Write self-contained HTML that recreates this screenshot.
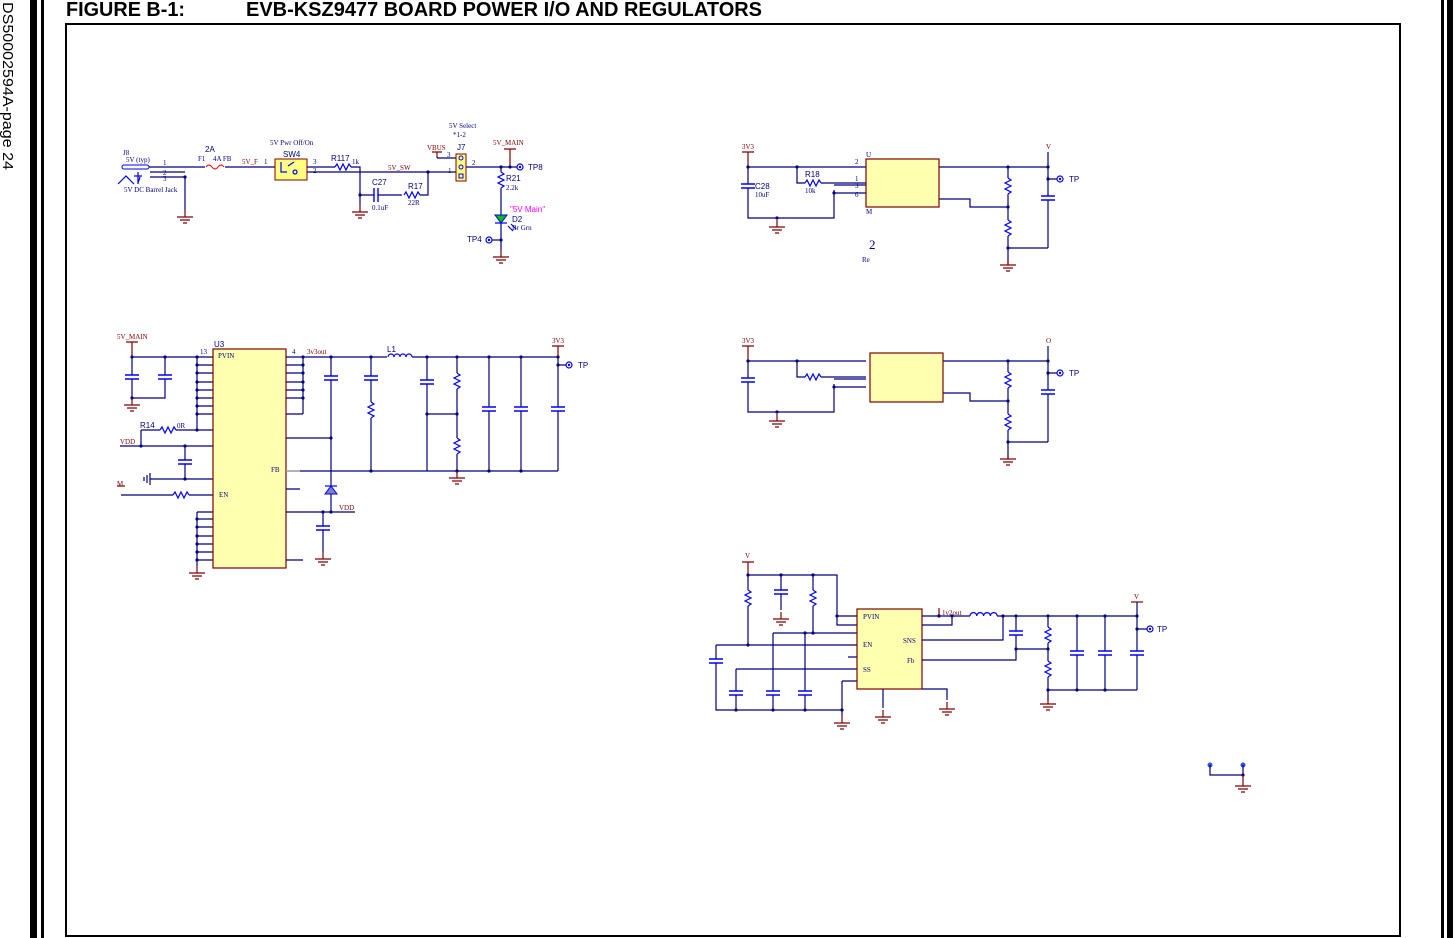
<!DOCTYPE html>
<html><head><meta charset="utf-8"><style>
html,body{margin:0;padding:0;background:#fff;}
svg{display:block}
.w{stroke:#00007f;stroke-width:1.2;fill:none}
.c{stroke:#0000ff;stroke-width:1.2;fill:none}
.r{stroke:#800000;stroke-width:1.2;fill:none}
.g{stroke:#999;stroke-width:1.5}
.lr{font-family:"Liberation Serif",serif;font-size:7px;fill:#800000}
.lb{font-family:"Liberation Sans",sans-serif;font-size:8px;fill:#00007f}
.lk{font-family:"Liberation Serif",serif;font-size:7px;fill:#00007f}
.chip{fill:#ffffb0;stroke:#800000;stroke-width:1.2}
</style></head><body>
<svg width="1455" height="938" viewBox="0 0 1455 938" xmlns="http://www.w3.org/2000/svg">
<defs>
<g id="gnd"><path d="M0,0v7M-8,7h16M-5,10h10M-2,13h4" stroke="#800000" stroke-width="1.2" fill="none"/></g>
<g id="rv"><rect x="-4" y="0" width="8" height="16" fill="#fff"/><path d="M0,0l3,2l-6,3l6,3l-6,3l6,3l-3,2" stroke="#0000ff" stroke-width="1.2" fill="none"/></g>
<g id="rh"><rect x="0" y="-4" width="16" height="8" fill="#fff"/><path d="M0,0l2,-3l3,6l3,-6l3,6l3,-6l2,3" stroke="#0000ff" stroke-width="1.2" fill="none"/></g>
<g id="cv"><rect x="-8" y="-2" width="16" height="4" fill="#fff"/><path d="M-7,-2h14M-7,2h14" stroke="#0000ff" stroke-width="1.4"/></g>
<g id="ch"><rect x="-2" y="-8" width="4" height="16" fill="#fff"/><path d="M-2,-7v14M2,-7v14" stroke="#0000ff" stroke-width="1.4"/></g>
<g id="d"><circle r="1.6" fill="#00007f"/></g>
<g id="tp"><circle r="3" fill="#fff" stroke="#0000ff" stroke-width="1.2"/><circle r="1.2" fill="#0000ff"/></g>
</defs>

<!-- page bars and frame -->
<rect x="30" y="0" width="7" height="938" fill="#000"/>
<rect x="41" y="0" width="3" height="938" fill="#000"/>
<rect x="1441" y="0" width="3" height="938" fill="#000"/>
<rect x="1447" y="0" width="6" height="938" fill="#000"/>
<path d="M66,24H1400V936H66Z" fill="none" stroke="#000" stroke-width="2"/>
<text x="0" y="0" transform="translate(3,2) rotate(90)" font-family="Liberation Sans,sans-serif" font-size="15" fill="#000" textLength="168" lengthAdjust="spacingAndGlyphs">DS50002594A-page 24</text>
<text x="66" y="16" font-family="Liberation Sans,sans-serif" font-size="20" font-weight="bold" fill="#000" textLength="119" lengthAdjust="spacingAndGlyphs">FIGURE B-1:</text>
<text x="246" y="16" font-family="Liberation Sans,sans-serif" font-size="20" font-weight="bold" fill="#000" textLength="516" lengthAdjust="spacingAndGlyphs">EVB-KSZ9477 BOARD POWER I/O AND REGULATORS</text>

<!-- ===== Section 1 ===== -->
<text x="123" y="155" class="lk">J8</text>
<text x="126" y="162" class="lk" font-size="5">5V (typ)</text>
<rect x="122" y="165" width="27" height="4" rx="2" fill="#fff" stroke="#0000ff"/>
<path class="w" d="M149,167H205M225,167H275M150,172H185M150,177H185V210"/>
<use href="#d" x="185" y="177"/>
<path class="c" d="M118,184l8,-8l8,8M138,172v12M134,176h8M140,177l-2,6"/>
<text x="124" y="192" class="lk">5V DC Barrel Jack</text>
<text x="163" y="165" class="lk">1</text><text x="163" y="175" class="lk">2</text><text x="163" y="181" class="lk">3</text>
<use href="#gnd" x="185" y="210"/>
<path d="M206,167q3,-4 6,0t6,0t6,0" stroke="#ff0000" fill="none"/>
<text x="205" y="152" class="lb" font-size="9">2A</text>
<text x="198" y="161" class="lk">F1</text><text x="213" y="161" class="lk">4A FB</text>
<text x="242" y="164" class="lr">5V_F</text><text x="264" y="164" class="lk">1</text>
<rect x="275" y="159" width="32" height="21" fill="#ffff80" stroke="#800000"/>
<path class="c" d="M281,162v10h6M288,166l6,-4M295,170a2,2 0 1 0 0.1,0"/>
<text x="283" y="157" class="lb">SW4</text>
<text x="270" y="145" class="lk">5V Pwr Off/On</text>
<path class="w" d="M307,167H335M351,167H360V205M307,172H456"/>
<text x="313" y="164" class="lk">3</text><text x="313" y="173" class="lk">2</text>
<use href="#rh" x="335" y="167"/>
<text x="331" y="161" class="lb">R117</text><text x="352" y="164" class="lk">1k</text>
<use href="#d" x="360" y="195"/>
<path class="w" d="M360,195H402M418,195H428V172"/>
<use href="#d" x="428" y="172"/>
<use href="#ch" x="376" y="195"/>
<use href="#rh" x="404" y="195"/>
<text x="372" y="185" class="lb">C27</text><text x="372" y="210" class="lk">0.1uF</text>
<text x="408" y="189" class="lb">R17</text><text x="408" y="205" class="lk">22R</text>
<text x="388" y="170" class="lr">5V_SW</text>
<use href="#gnd" x="360" y="205"/>
<text x="449" y="128" class="lk">5V Select</text><text x="453" y="137" class="lk">*1-2</text>
<text x="427" y="150" class="lr">VBUS</text>
<path class="r" d="M432,152h10M437,152v6"/>
<path class="w" d="M437,158H456M466,167H517"/>
<rect x="456" y="154" width="10" height="27" fill="#ffff80" stroke="#800000"/>
<circle cx="461" cy="158" r="2" fill="none" stroke="#0000ff"/><circle cx="461" cy="167" r="2" fill="none" stroke="#0000ff"/><rect x="459" y="174" width="4" height="4" fill="none" stroke="#0000ff"/>
<text x="457" y="150" class="lb">J7</text>
<text x="447" y="157" class="lk">3</text><text x="472" y="165" class="lk">2</text><text x="448" y="173" class="lk">1</text>
<text x="493" y="145" class="lr">5V_MAIN</text>
<path class="r" d="M504,149h12M510,149v18"/>
<use href="#d" x="510" y="167"/><use href="#d" x="501" y="167"/>
<use href="#tp" x="520" y="167"/><text x="528" y="170" class="lb">TP8</text>
<path class="w" d="M501,167V250"/>
<use href="#rv" x="501" y="172"/>
<text x="506" y="181" class="lb">R21</text><text x="506" y="190" class="lk">2.2k</text>
<path d="M495,215h12l-6,8z" fill="#00c000" stroke="#0000ff"/><path class="c" d="M495,223h12M508,226l5,5M511,224l5,5"/>
<text x="510" y="212" class="lb" style="fill:#ff00ff">"5V Main"</text>
<text x="512" y="222" class="lb">D2</text><text x="512" y="230" class="lk">Br Grn</text>
<use href="#tp" x="489" y="240"/><use href="#d" x="501" y="240"/><path class="w" d="M492,240H501"/>
<text x="467" y="242" class="lb">TP4</text>
<use href="#gnd" x="501" y="250"/>

<!-- ===== Section 2 (U3) ===== -->
<text x="117" y="339" class="lr">5V_MAIN</text>
<path class="r" d="M126,342h12M132,342v15"/>
<path class="w" d="M132,357H213M132,357V398H165V357M197,357V430M197,365H213M197,373H213M197,382H213M197,390H213M197,398H213M197,406H213M197,414H213M141,430H213M141,430V446M120,446H213M185,446V479M150,479H213M121,495H213M197,512V566M197,512H213M197,519H213M197,527H213M197,536H213M197,544H213M197,552H213M197,560H213"/>
<use href="#cv" x="132" y="377"/><use href="#cv" x="165" y="377"/>
<use href="#d" x="132" y="357"/><use href="#d" x="165" y="357"/><use href="#d" x="132" y="398"/>
<use href="#gnd" x="132" y="398"/>
<g fill="#00007f"><circle cx="197" cy="357" r="1.6"/><circle cx="197" cy="365" r="1.6"/><circle cx="197" cy="373" r="1.6"/><circle cx="197" cy="382" r="1.6"/><circle cx="197" cy="390" r="1.6"/><circle cx="197" cy="398" r="1.6"/><circle cx="197" cy="406" r="1.6"/><circle cx="197" cy="414" r="1.6"/><circle cx="197" cy="430" r="1.6"/><circle cx="141" cy="446" r="1.6"/><circle cx="185" cy="446" r="1.6"/><circle cx="185" cy="479" r="1.6"/>
<circle cx="197" cy="519" r="1.6"/><circle cx="197" cy="527" r="1.6"/><circle cx="197" cy="536" r="1.6"/><circle cx="197" cy="544" r="1.6"/><circle cx="197" cy="552" r="1.6"/><circle cx="197" cy="560" r="1.6"/></g>
<use href="#rh" x="160" y="430"/>
<text x="140" y="428" class="lb">R14</text><text x="177" y="428" class="lk">0R</text>
<text x="120" y="444" class="lr">VDD</text>
<use href="#cv" x="185" y="462"/>
<path d="M150,473v12M147,475v8M144,477v4" stroke="#00007f" stroke-width="1.2"/>
<text x="117" y="486" class="lr">M</text><path class="r" d="M117,486h8"/>
<use href="#rh" x="173" y="495"/>
<use href="#gnd" x="197" y="566"/>
<rect x="213" y="349" width="73" height="219" class="chip"/>
<text x="214" y="347" class="lb">U3</text><text x="200" y="354" class="lk">13</text>
<text x="218" y="358" class="lk">PVIN</text><text x="219" y="497" class="lk">EN</text><text x="271" y="472" class="lk">FB</text>
<text x="292" y="354" class="lk">4</text><text x="307" y="354" class="lr">3v3out</text>
<path class="w" d="M286,357H387M412,357H558M303,357V414M286,365H303M286,373H303M286,382H303M286,390H303M286,398H303M286,414H303M286,438H331M331,357V512M371,357V471M427,357V471M457,357V471M489,357V471M521,357V471M558,357V471M300,471H558M427,414H457M286,489H300M286,512H355M323,512V552M286,560H303M558,365H566"/>
<path class="g" d="M286,471h14"/>
<g fill="#00007f"><circle cx="303" cy="357" r="1.6"/><circle cx="303" cy="365" r="1.6"/><circle cx="303" cy="373" r="1.6"/><circle cx="303" cy="382" r="1.6"/><circle cx="303" cy="390" r="1.6"/><circle cx="303" cy="398" r="1.6"/><circle cx="331" cy="357" r="1.6"/><circle cx="371" cy="357" r="1.6"/><circle cx="427" cy="357" r="1.6"/><circle cx="457" cy="357" r="1.6"/><circle cx="489" cy="357" r="1.6"/><circle cx="521" cy="357" r="1.6"/><circle cx="558" cy="357" r="1.6"/><circle cx="558" cy="365" r="1.6"/><circle cx="331" cy="438" r="1.6"/><circle cx="371" cy="471" r="1.6"/><circle cx="427" cy="414" r="1.6"/><circle cx="457" cy="414" r="1.6"/><circle cx="457" cy="471" r="1.6"/><circle cx="489" cy="471" r="1.6"/><circle cx="521" cy="471" r="1.6"/><circle cx="331" cy="512" r="1.6"/><circle cx="323" cy="512" r="1.6"/></g>
<use href="#cv" x="331" y="378"/><use href="#cv" x="371" y="378"/><use href="#rv" x="371" y="402"/>
<path d="M388,357a3,3 0 0 1 6,0a3,3 0 0 1 6,0a3,3 0 0 1 6,0a3,3 0 0 1 6,0" stroke="#0000ff" fill="none" stroke-width="1.2"/>
<text x="387" y="352" class="lb">L1</text>
<use href="#cv" x="427" y="382"/><use href="#rv" x="457" y="373"/><use href="#rv" x="457" y="438"/>
<use href="#cv" x="489" y="409"/><use href="#cv" x="521" y="409"/><use href="#cv" x="558" y="409"/>
<use href="#gnd" x="457" y="471"/>
<text x="552" y="343" class="lr">3V3</text><path class="r" d="M552,346h12M558,346v11"/>
<use href="#tp" x="569" y="365"/><text x="578" y="368" class="lb">TP</text>
<path d="M325,494h12l-6,-8z" fill="#8080c0" stroke="#0000ff"/><path class="c" d="M325,486h12"/>
<text x="339" y="510" class="lr">VDD</text>
<use href="#cv" x="323" y="528"/><use href="#gnd" x="323" y="552"/>

<!-- ===== Section 3 ===== -->
<g id="reg">
<path class="r" d="M742,152h12M748,152v15"/>
<path class="w" d="M748,167H866M748,167V218H834V190M834,185H866M834,193H866M797,167V183H805M821,183H866M939,167H1048M1048,152V248M1008,248H1048M939,199H970V207H1008M1008,167V265M1048,179H1057"/>
<use href="#cv" x="748" y="186"/>
<use href="#rh" x="805" y="183"/>
<g fill="#00007f"><circle cx="748" cy="167" r="1.6"/><circle cx="797" cy="167" r="1.6"/><circle cx="777" cy="218" r="1.6"/><circle cx="834" cy="193" r="1.6"/><circle cx="1008" cy="167" r="1.6"/><circle cx="1048" cy="167" r="1.6"/><circle cx="1048" cy="179" r="1.6"/><circle cx="1008" cy="207" r="1.6"/><circle cx="1008" cy="248" r="1.6"/></g>
<use href="#gnd" x="777" y="220"/>
<use href="#rv" x="1008" y="178"/><use href="#rv" x="1008" y="220"/>
<use href="#cv" x="1048" y="198"/>
<use href="#tp" x="1060" y="179"/>
<use href="#gnd" x="1008" y="258"/>
</g>
<text x="742" y="149" class="lr">3V3</text>
<rect x="866" y="159" width="73" height="48" class="chip"/>
<text x="755" y="189" class="lb">C28</text><text x="755" y="197" class="lk">10uF</text>
<text x="805" y="177" class="lb">R18</text><text x="805" y="193" class="lk">10k</text>
<text x="866" y="157" class="lk">U</text><text x="866" y="214" class="lk">M</text>
<text x="855" y="164" class="lk">2</text><text x="855" y="181" class="lk">1</text><text x="855" y="188" class="lk">3</text><text x="855" y="197" class="lk">6</text>
<text x="1046" y="149" class="lr">V</text><text x="1069" y="182" class="lb">TP</text>
<text x="869" y="249" font-family="Liberation Serif,serif" font-size="13" fill="#00007f">2</text>
<text x="862" y="262" class="lk" font-size="9">Re</text>

<!-- ===== Section 4 ===== -->
<use href="#reg" x="0" y="194"/>
<rect x="870" y="353" width="73" height="49" class="chip"/>
<text x="742" y="343" class="lr">3V3</text>
<text x="1046" y="343" class="lr">O</text><text x="1069" y="376" class="lb">TP</text>

<!-- ===== Section 5 ===== -->
<text x="745" y="558" class="lr">V</text><path class="r" d="M742,562h12M748,562v13"/>
<path class="w" d="M748,575H837V625H857M837,616H857M781,575V610M813,575V633M773,633H857M716,645H857M748,575V645M716,645V710H842M736,669H857M736,669V710M773,633V710M805,633V710M842,681H857M842,681V716M848,657H857"/>
<use href="#rv" x="748" y="590"/><use href="#cv" x="781" y="592"/><use href="#rv" x="813" y="590"/>
<use href="#gnd" x="781" y="612"/>
<use href="#cv" x="716" y="661"/><use href="#cv" x="736" y="693"/><use href="#cv" x="773" y="693"/><use href="#cv" x="805" y="693"/>
<g fill="#00007f"><circle cx="748" cy="575" r="1.6"/><circle cx="781" cy="575" r="1.6"/><circle cx="813" cy="575" r="1.6"/><circle cx="837" cy="616" r="1.6"/><circle cx="813" cy="633" r="1.6"/><circle cx="805" cy="633" r="1.6"/><circle cx="748" cy="645" r="1.6"/><circle cx="736" cy="710" r="1.6"/><circle cx="773" cy="710" r="1.6"/><circle cx="805" cy="710" r="1.6"/><circle cx="842" cy="710" r="1.6"/></g>
<use href="#gnd" x="842" y="716"/>
<rect x="857" y="609" width="65" height="80" class="chip"/>
<text x="863" y="619" class="lk">PVIN</text><text x="863" y="647" class="lk">EN</text><text x="863" y="672" class="lk">SS</text>
<text x="903" y="643" class="lk">SNS</text><text x="907" y="663" class="lk">Fb</text>
<path class="w" d="M883,689V708M922,689H947V700M922,616H970M922,625H952V616M997,616H1137M1003,616V640H922M1016,616V649H1048M922,660H1016V649M1048,616V700M1077,616V690M1105,616V690M1137,602V690M1048,690H1137M1137,629H1147"/>
<use href="#gnd" x="883" y="710"/><use href="#gnd" x="947" y="702"/>
<text x="942" y="615" class="lr">1v2out</text><path class="r" d="M939,608v8"/>
<path d="M970,616a3.4,3.4 0 0 1 6.8,0a3.4,3.4 0 0 1 6.8,0a3.4,3.4 0 0 1 6.8,0a3.4,3.4 0 0 1 6.8,0" stroke="#0000ff" fill="none" stroke-width="1.2"/>
<use href="#cv" x="1016" y="633"/><use href="#rv" x="1048" y="627"/><use href="#rv" x="1048" y="661"/>
<use href="#cv" x="1077" y="653"/><use href="#cv" x="1105" y="653"/><use href="#cv" x="1137" y="653"/>
<g fill="#00007f"><circle cx="939" cy="616" r="1.6"/><circle cx="952" cy="616" r="1.6"/><circle cx="1003" cy="616" r="1.6"/><circle cx="1016" cy="616" r="1.6"/><circle cx="1048" cy="616" r="1.6"/><circle cx="1077" cy="616" r="1.6"/><circle cx="1105" cy="616" r="1.6"/><circle cx="1137" cy="616" r="1.6"/><circle cx="1137" cy="629" r="1.6"/><circle cx="1016" cy="649" r="1.6"/><circle cx="1048" cy="649" r="1.6"/><circle cx="1048" cy="690" r="1.6"/><circle cx="1077" cy="690" r="1.6"/><circle cx="1105" cy="690" r="1.6"/></g>
<use href="#gnd" x="1048" y="697"/>
<text x="1134" y="599" class="lr">V</text><path class="r" d="M1131,602h12"/>
<use href="#tp" x="1150" y="629"/><text x="1157" y="632" class="lb">TP</text>

<!-- bottom right -->
<circle cx="1210" cy="765" r="2.5" fill="#3050ff"/><circle cx="1243" cy="765" r="2.5" fill="#3050ff"/>
<path class="w" d="M1210,765V775H1243V765"/><use href="#d" x="1243" y="775"/>
<path class="r" d="M1243,775V786M1235,786h16M1238,789h10M1241,792h4"/>
</svg>
</body></html>
